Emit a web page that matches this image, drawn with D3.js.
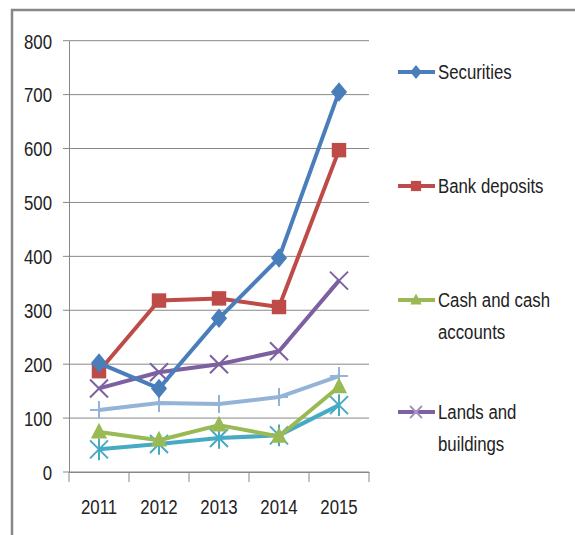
<!DOCTYPE html>
<html><head><meta charset="utf-8">
<script src="https://cdn.jsdelivr.net/npm/d3@7/dist/d3.min.js"></script>
<style>
html,body{margin:0;padding:0;background:#fff;}
text{font-family:"Liberation Sans Narrow","Liberation Sans",Arial,sans-serif;fill:#222;}
</style></head>
<body>
<svg id="c" width="575" height="535"></svg>
<script>
const years = ["2011","2012","2013","2014","2015"];
const yTicks = [0,100,200,300,400,500,600,700,800];
const seriesNames = ["Securities","Bank deposits","Cash and cash accounts","Lands and buildings","Series5","Series6"];
const securities = [202,155,285,397,705];
const bankDeposits = [187,318,322,306,597];
const cashAccounts = [74,59,87,66,158];
const landsBuildings = [155,185,200,224,355];
const series5 = [42,52,63,68,124];
const series6 = [115,128,126,139,178];

const data = [securities,bankDeposits,cashAccounts,landsBuildings,series5,series6];
const mtypes = ["diamond","square","triangle","x","star","plus"];
const mcolors = ["#4A7EBB","#BE4B48","#98B954","#7D60A0","#46AAC5","#95B3D7"];
const SX = 0.8, FS = "21px";

const svg = d3.select("#c");
svg.append("rect").attr("x",12).attr("y",10).attr("width",600).attr("height",600)
  .attr("fill","none").attr("stroke","#888").attr("stroke-width",2.5);

const x = d3.scaleBand().domain(years).range([69,369]);
const y = d3.scaleLinear().domain([0,800]).range([472,40.7]);

svg.append("g").selectAll("line").data(yTicks).join("line")
  .attr("x1",63).attr("x2",369).attr("y1",d=>y(d)).attr("y2",d=>y(d))
  .attr("stroke","#888").attr("stroke-width",1);

const ya = svg.append("g").attr("transform","translate(69,0)")
  .call(d3.axisLeft(y).tickValues(yTicks).tickSize(0).tickPadding(17));
ya.select(".domain").attr("stroke","#888");
ya.selectAll("text").attr("font-size",FS).attr("font-family",null).attr("dy","0.35em")
  .attr("x",-17/SX).attr("transform",`scale(${SX},1)`);

const xa = svg.append("g").attr("transform","translate(0,472)")
  .call(d3.axisBottom(x).tickSize(0).tickPadding(27));
xa.select(".domain").attr("stroke","#888");
xa.selectAll("text").attr("font-size",FS).attr("font-family",null).attr("transform",`scale(${SX},1)`);
svg.append("g").selectAll("line").data(d3.range(years.length+1)).join("line")
  .attr("x1",i=>69+i*x.step()).attr("x2",i=>69+i*x.step())
  .attr("y1",472).attr("y2",482).attr("stroke","#888");

function marker(g, type, color, cx, cy, s){
  if(type==="diamond"){
    g.append("path").attr("d",`M${cx},${cy-s*1.15}L${cx+s*0.95},${cy}L${cx},${cy+s*1.15}L${cx-s*0.95},${cy}Z`).attr("fill",color);
  } else if(type==="square"){
    g.append("rect").attr("x",cx-s*0.85).attr("y",cy-s*0.85).attr("width",s*1.7).attr("height",s*1.7).attr("fill",color);
  } else if(type==="triangle"){
    g.append("path").attr("d",`M${cx},${cy-s*1.1}L${cx+s*0.95},${cy+s*0.75}L${cx-s*0.95},${cy+s*0.75}Z`).attr("fill",color);
  } else if(type==="x"){
    g.append("path").attr("d",`M${cx-s},${cy-s}L${cx+s},${cy+s}M${cx-s},${cy+s}L${cx+s},${cy-s}`).attr("stroke",color).attr("stroke-width",2);
  } else if(type==="plus"){
    g.append("path").attr("d",`M${cx-s},${cy}L${cx+s},${cy}M${cx},${cy-s}L${cx},${cy+s}`).attr("stroke",color).attr("stroke-width",2);
  } else if(type==="star"){
    g.append("path").attr("d",`M${cx-s},${cy-s}L${cx+s},${cy+s}M${cx-s},${cy+s}L${cx+s},${cy-s}M${cx},${cy-s*1.2}L${cx},${cy+s*1.2}`).attr("stroke",color).attr("stroke-width",2);
  }
}

const line = d3.line().x((d,i)=>x(years[i])+x.bandwidth()/2).y(d=>y(d));
[5,4,3,2,1,0].forEach(k=>{
  const g = svg.append("g");
  g.append("path").datum(data[k]).attr("d",line).attr("fill","none")
    .attr("stroke",mcolors[k]).attr("stroke-width",4).attr("stroke-linejoin","round");
  data[k].forEach((v,i)=>marker(g,mtypes[k],mcolors[k],x(years[i])+x.bandwidth()/2,y(v),k<3?8.5:9));
});

const legendItems = [
  {name:["Securities"], y:72},
  {name:["Bank deposits"], y:186},
  {name:["Cash and cash","accounts"], y:300},
  {name:["Lands and","buildings"], y:412}
];
legendItems.forEach((it,k)=>{
  const g = svg.append("g");
  g.append("line").attr("x1",398).attr("x2",435).attr("y1",it.y).attr("y2",it.y)
    .attr("stroke",mcolors[k]).attr("stroke-width",4);
  if(k===3) marker(g,"x","#A793C6",416,it.y,6);
  else marker(g,mtypes[k],mcolors[k],416,it.y,6);
  const t = g.append("text").attr("y",it.y).attr("font-size",FS).attr("transform",`scale(${SX},1)`);
  it.name.forEach((s,j)=>t.append("tspan").attr("x",438/SX).attr("dy",j===0?"0.35em":"1.5em").text(s));
});
</script>
</body></html>
